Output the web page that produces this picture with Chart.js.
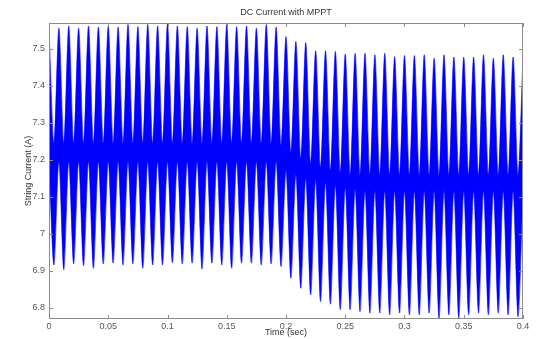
<!DOCTYPE html>
<html>
<head>
<meta charset="utf-8">
<script src="https://cdn.jsdelivr.net/npm/chart.js@4.4.0/dist/chart.umd.min.js"></script>
<style>
  html, body { margin: 0; padding: 0; background: #fff; }
  #wrap { width: 543px; height: 339px; }
</style>
</head>
<body>
<div id="wrap"><canvas id="myChart"></canvas></div>
<script>
// One entry per 120 Hz ripple cycle.
// Upper spikes peak on whole cycles, lower spikes half a cycle later.
const upperPeaks = [
  7.555, 7.556, 7.562, 7.556, 7.562, 7.559, 7.562, 7.559, 7.566, 7.560,
  7.566, 7.562, 7.568, 7.562, 7.560, 7.556, 7.562, 7.560, 7.566, 7.560,
  7.562, 7.556, 7.566, 7.559, 7.533, 7.520, 7.517, 7.495, 7.495, 7.493,
  7.486, 7.488, 7.488, 7.484, 7.488, 7.479, 7.482, 7.482, 7.484, 7.475,
  7.484, 7.478, 7.478, 7.478, 7.484, 7.475, 7.484, 7.478, 7.480
];
// top edge of the dense band, between two upper spikes
const upperValleys = [
  7.245, 7.245, 7.245, 7.245, 7.245, 7.245, 7.245, 7.245, 7.245, 7.245,
  7.245, 7.245, 7.245, 7.245, 7.245, 7.245, 7.245, 7.245, 7.245, 7.245,
  7.245, 7.245, 7.245, 7.240, 7.220, 7.205, 7.190, 7.180, 7.172, 7.166,
  7.160, 7.160, 7.160, 7.160, 7.160, 7.160, 7.160, 7.160, 7.160, 7.160,
  7.160, 7.160, 7.160, 7.160, 7.160, 7.160, 7.160, 7.160
];
// bottom edge of the dense band, between two lower spikes
const lowerPeaks = [
  7.195, 7.195, 7.195, 7.195, 7.195, 7.195, 7.195, 7.195, 7.195, 7.195,
  7.195, 7.195, 7.195, 7.195, 7.195, 7.195, 7.195, 7.195, 7.195, 7.195,
  7.195, 7.195, 7.195, 7.195, 7.170, 7.160, 7.150, 7.145, 7.138, 7.130,
  7.125, 7.120, 7.115, 7.115, 7.115, 7.115, 7.115, 7.115, 7.115, 7.115,
  7.115, 7.115, 7.115, 7.115, 7.115, 7.115, 7.115, 7.115, 7.115
];
const lowerTroughs = [
  6.916, 6.903, 6.919, 6.914, 6.907, 6.919, 6.921, 6.916, 6.919, 6.907,
  6.916, 6.916, 6.922, 6.919, 6.921, 6.905, 6.921, 6.916, 6.907, 6.921,
  6.921, 6.916, 6.919, 6.912, 6.880, 6.853, 6.835, 6.817, 6.810, 6.795,
  6.795, 6.790, 6.786, 6.786, 6.781, 6.786, 6.781, 6.781, 6.786, 6.772,
  6.781, 6.772, 6.781, 6.786, 6.781, 6.786, 6.781, 6.776
];

const xTicks = [0, 0.05, 0.1, 0.15, 0.2, 0.25, 0.3, 0.35, 0.4];
const yTicks = [6.8, 6.9, 7, 7.1, 7.2, 7.3, 7.4, 7.5];
const ripplePeriod = 1 / 120;

// outline of the ripple: tops on whole cycles, bottoms half a cycle later
function envelope(tops, bottoms) {
  const pts = [];
  tops.forEach(function (v, k) {
    pts.push({ x: k * ripplePeriod, y: v });
    if (k < bottoms.length) pts.push({ x: (k + 0.5) * ripplePeriod, y: bottoms[k] });
  });
  return pts;
}

// matlab style box with inward ticks on all sides
const matlabBox = {
  id: 'matlabBox',
  afterDatasetsDraw(chart) {
    const { ctx, chartArea: a, scales } = chart;
    const len = 4;
    ctx.save();
    ctx.strokeStyle = '#8c8c8c';
    ctx.lineWidth = 1;
    ctx.strokeRect(a.left + 0.5, a.top + 0.5, a.width - 1, a.height - 1);
    ctx.beginPath();
    xTicks.forEach(function (v) {
      const px = Math.round(scales.x.getPixelForValue(v)) + 0.5;
      ctx.moveTo(px, a.bottom); ctx.lineTo(px, a.bottom - len);
      ctx.moveTo(px, a.top); ctx.lineTo(px, a.top + len);
    });
    yTicks.forEach(function (v) {
      const py = Math.round(scales.y.getPixelForValue(v)) + 0.5;
      ctx.moveTo(a.left, py); ctx.lineTo(a.left + len, py);
      ctx.moveTo(a.right, py); ctx.lineTo(a.right - len, py);
    });
    ctx.stroke();
    ctx.restore();
  }
};

Chart.defaults.font.family = "'Liberation Sans', Arial, sans-serif";
Chart.defaults.font.size = 9;

const ctx = document.getElementById('myChart').getContext('2d');
new Chart(ctx, {
  type: 'line',
  data: {
    datasets: [{
      label: 'upper',
      data: envelope(upperPeaks, upperValleys),
      borderColor: '#0000ff',
      borderWidth: 0.6,
      pointRadius: 0,
      tension: 0.3,
      fill: false
    }, {
      label: 'lower',
      data: envelope(lowerPeaks, lowerTroughs),
      borderColor: '#0000ff',
      backgroundColor: '#0000ff',
      borderWidth: 0.6,
      pointRadius: 0,
      tension: 0.3,
      fill: '-1'
    }]
  },
  options: {
    responsive: true,
    maintainAspectRatio: false,
    animation: false,
    layout: { padding: { left: 0, right: 20, top: 0, bottom: 0 } },
    plugins: {
      legend: { display: false },
      tooltip: { enabled: false }
    },
    scales: {
      x: {
        type: 'linear',
        min: 0,
        max: 0.4,
        grid: { display: false, drawTicks: false },
        border: { display: false },
        afterBuildTicks: function (s) { s.ticks = xTicks.map(v => ({ value: v })); },
        afterFit: function (s) { s.height = 20; },
        ticks: {
          color: '#555',
          padding: 2,
          maxRotation: 0,
          autoSkip: false,
          callback: v => String(v)
        },
        title: {
          display: true,
          text: 'Time (sec)',
          color: '#333',
          padding: { top: 0, bottom: 1 }
        }
      },
      // top axis only carries the plot title so it centres over the axes
      top: {
        type: 'linear',
        position: 'top',
        min: 0,
        max: 0.4,
        grid: { display: false, drawTicks: false },
        border: { display: false },
        ticks: { display: false },
        afterFit: function (s) { s.height = 23; },
        title: {
          display: true,
          text: 'DC Current with MPPT',
          color: '#333',
          padding: { top: 7, bottom: 0 }
        }
      },
      y: {
        min: 6.77,
        max: 7.57,
        grid: { display: false, drawTicks: false },
        border: { display: false },
        afterBuildTicks: function (s) { s.ticks = yTicks.map(v => ({ value: v })); },
        afterFit: function (s) { s.width = 49; },
        ticks: {
          color: '#555',
          padding: 4,
          autoSkip: false,
          callback: v => String(v)
        },
        title: {
          display: true,
          text: 'String Current (A)',
          color: '#333',
          padding: { top: 23, bottom: 0 }
        }
      }
    }
  },
  plugins: [matlabBox]
});
</script>
</body>
</html>
